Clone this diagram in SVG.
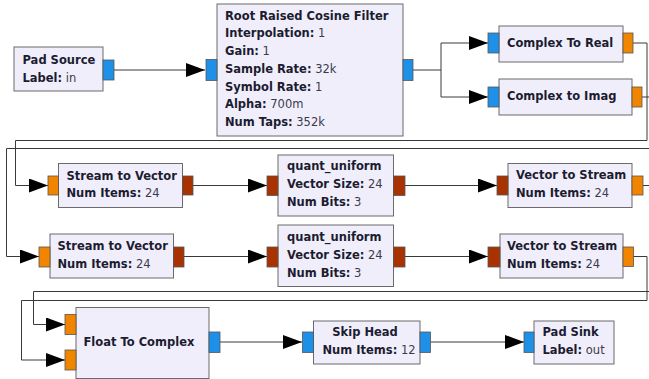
<svg xmlns="http://www.w3.org/2000/svg" width="649" height="379" viewBox="0 0 649 379">
<defs>
<style>
.box{fill:#f1eefc;stroke:#6b6b6b;stroke-width:1}
.pc{fill:#1e90e8;stroke:#555;stroke-width:0.8}
.pf{fill:#f28500;stroke:#555;stroke-width:0.8}
.pv{fill:#a83300;stroke:#555;stroke-width:0.8}
.w{fill:none;stroke:#3a3a3a;stroke-width:1}
text{font-family:"DejaVu Sans",sans-serif;font-size:11.5px;fill:#1c1c30}
.b{font-weight:bold}
.v{font-weight:normal;fill:#3a3a4a}
</style>
<marker id="ah" markerWidth="19" markerHeight="14" refX="19" refY="7" orient="auto" markerUnits="userSpaceOnUse">
<path d="M0,0 L19,7 L0,14 Z" fill="#000"/>
</marker>
</defs>
<rect width="649" height="379" fill="#fff"/>
<g id="connectors">
<path class="w" d="M114,70 H205" marker-end="url(#ah)"/>
<path class="w" d="M413,70 H441 V43 H488" marker-end="url(#ah)"/>
<path class="w" d="M441,70 V97 H488" marker-end="url(#ah)"/>
<path class="w" d="M633,43 H647 V140.5 H15.5 V185.5 H48" marker-end="url(#ah)"/>
<path class="w" d="M642,97 H655 M655,148.5 H6.5 V256.5 H39" marker-end="url(#ah)"/>
<path class="w" d="M193,185.5 H267" marker-end="url(#ah)"/>
<path class="w" d="M405,185.5 H497" marker-end="url(#ah)"/>
<path class="w" d="M184,256.5 H267" marker-end="url(#ah)"/>
<path class="w" d="M405,256.5 H488" marker-end="url(#ah)"/>
<path class="w" d="M643,185.5 H655 M655,291.5 H33.5 V324.5 H65" marker-end="url(#ah)"/>
<path class="w" d="M633,256.5 H647 V300.5 H21.5 V360 H65" marker-end="url(#ah)"/>
<path class="w" d="M220,342 H302" marker-end="url(#ah)"/>
<path class="w" d="M431,342 H524" marker-end="url(#ah)"/>
</g>
<g id="pad_source">
<rect class="box" x="14" y="47" width="89" height="44"/>
<rect class="pc" x="103" y="60" width="11" height="20"/>
<text x="22.5" y="64" class="b">Pad Source</text>
<text x="22.5" y="81.7"><tspan class="b">Label:</tspan><tspan class="v"> in</tspan></text>
</g>
<g id="rrc_filter">
<rect class="box" x="217" y="4" width="186" height="132"/>
<rect class="pc" x="206" y="59.5" width="11" height="21"/>
<rect class="pc" x="403" y="59.5" width="10" height="21"/>
<text x="225" y="19.7" class="b">Root Raised Cosine Filter</text>
<text x="225" y="37.3"><tspan class="b">Interpolation:</tspan><tspan class="v"> 1</tspan></text>
<text x="225" y="55"><tspan class="b">Gain:</tspan><tspan class="v"> 1</tspan></text>
<text x="225" y="73"><tspan class="b">Sample Rate:</tspan><tspan class="v"> 32k</tspan></text>
<text x="225" y="90.7"><tspan class="b">Symbol Rate:</tspan><tspan class="v"> 1</tspan></text>
<text x="225" y="108"><tspan class="b">Alpha:</tspan><tspan class="v"> 700m</tspan></text>
<text x="225" y="125.7"><tspan class="b">Num Taps:</tspan><tspan class="v"> 352k</tspan></text>
</g>
<g id="complex_to_real">
<rect class="box" x="499" y="26" width="124" height="36"/>
<rect class="pc" x="488" y="33" width="11" height="20"/>
<rect class="pf" x="623" y="33" width="10" height="20"/>
<text x="507" y="46.7" class="b">Complex To Real</text>
</g>
<g id="complex_to_imag">
<rect class="box" x="499" y="79" width="133" height="36"/>
<rect class="pc" x="488" y="87" width="11" height="20"/>
<rect class="pf" x="632" y="87" width="10" height="20"/>
<text x="507" y="100" class="b">Complex to Imag</text>
</g>
<g id="stream_to_vector_1">
<rect class="box" x="58.5" y="163.5" width="124" height="44"/>
<rect class="pf" x="48" y="176" width="10.5" height="19"/>
<rect class="pv" x="182.5" y="176" width="10.5" height="19"/>
<text x="66.5" y="179.7" class="b">Stream to Vector</text>
<text x="66.5" y="197.3"><tspan class="b">Num Items:</tspan><tspan class="v"> 24</tspan></text>
</g>
<g id="quant_uniform_1">
<rect class="box" x="278" y="155" width="115.5" height="61"/>
<rect class="pv" x="267" y="176" width="11" height="19.5"/>
<rect class="pv" x="393.5" y="176" width="11.5" height="19.5"/>
<text x="287" y="170" class="b">quant_uniform</text>
<text x="287" y="188.3"><tspan class="b">Vector Size:</tspan><tspan class="v"> 24</tspan></text>
<text x="287" y="205.7"><tspan class="b">Num Bits:</tspan><tspan class="v"> 3</tspan></text>
</g>
<g id="vector_to_stream_1">
<rect class="box" x="508" y="163.5" width="124" height="44"/>
<rect class="pv" x="497" y="176" width="11" height="19"/>
<rect class="pf" x="632" y="176" width="11" height="19"/>
<text x="516" y="179.3" class="b">Vector to Stream</text>
<text x="516" y="197.3"><tspan class="b">Num Items:</tspan><tspan class="v"> 24</tspan></text>
</g>
<g id="stream_to_vector_2">
<rect class="box" x="50" y="234" width="123.5" height="44"/>
<rect class="pf" x="39" y="247" width="11" height="20"/>
<rect class="pv" x="173.5" y="247" width="10.5" height="20"/>
<text x="57.5" y="250" class="b">Stream to Vector</text>
<text x="57.5" y="268"><tspan class="b">Num Items:</tspan><tspan class="v"> 24</tspan></text>
</g>
<g id="quant_uniform_2">
<rect class="box" x="278" y="225" width="115.5" height="61.5"/>
<rect class="pv" x="267" y="247" width="11" height="20"/>
<rect class="pv" x="393.5" y="247" width="11.5" height="20"/>
<text x="287" y="241.3" class="b">quant_uniform</text>
<text x="287" y="259"><tspan class="b">Vector Size:</tspan><tspan class="v"> 24</tspan></text>
<text x="287" y="277.3"><tspan class="b">Num Bits:</tspan><tspan class="v"> 3</tspan></text>
</g>
<g id="vector_to_stream_2">
<rect class="box" x="500" y="234" width="123" height="44"/>
<rect class="pv" x="488" y="247" width="12" height="20"/>
<rect class="pf" x="623" y="247" width="10.5" height="19.5"/>
<text x="507" y="250" class="b">Vector to Stream</text>
<text x="507" y="268"><tspan class="b">Num Items:</tspan><tspan class="v"> 24</tspan></text>
</g>
<g id="float_to_complex">
<rect class="box" x="76" y="307.5" width="133" height="71"/>
<rect class="pf" x="65" y="314.5" width="11" height="20"/>
<rect class="pf" x="65" y="350" width="11" height="20"/>
<rect class="pc" x="209" y="332" width="11" height="20.5"/>
<text x="83.5" y="345.7" class="b">Float To Complex</text>
</g>
<g id="skip_head">
<rect class="box" x="313.5" y="321" width="106.5" height="43"/>
<rect class="pc" x="302.5" y="332" width="11" height="20.5"/>
<rect class="pc" x="420" y="332" width="10.5" height="20.5"/>
<text x="332.3" y="336.3" class="b">Skip Head</text>
<text x="322.5" y="354"><tspan class="b">Num Items:</tspan><tspan class="v"> 12</tspan></text>
</g>
<g id="pad_sink">
<rect class="box" x="534" y="321" width="80" height="43"/>
<rect class="pc" x="524" y="332" width="10" height="20.5"/>
<text x="542.5" y="336.3" class="b">Pad Sink</text>
<text x="542.5" y="354"><tspan class="b">Label:</tspan><tspan class="v"> out</tspan></text>
</g>
</svg>
